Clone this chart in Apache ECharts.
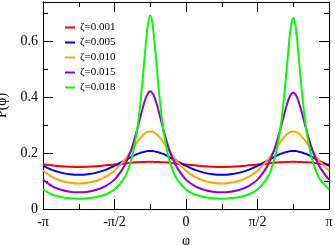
<!DOCTYPE html>
<html>
<head>
<meta charset="utf-8">
<script src="https://cdn.jsdelivr.net/npm/echarts@6/dist/echarts.min.js"></script>
<style>
html,body{margin:0;padding:0;background:#fff;}
#c{width:335px;height:245px;}
</style>
</head>
<body>
<div id="c"></div>
<script>
// phi in units of pi
var phiOverPi = [-1,-0.9375,-0.875,-0.8125,-0.75,-0.6875,-0.625,-0.5625,-0.5,-0.4375,-0.40625,-0.375,-0.34375,-0.328125,-0.3125,-0.296875,-0.28125,-0.265625,-0.25,-0.234375,-0.21875,-0.203125,-0.1875,-0.171875,-0.15625,-0.125,-0.09375,-0.0625,0,0.0625,0.125,0.1875,0.25,0.3125,0.375,0.4375,0.5,0.5625,0.59375,0.625,0.65625,0.671875,0.6875,0.703125,0.71875,0.734375,0.75,0.765625,0.78125,0.796875,0.8125,0.828125,0.84375,0.875,0.90625,0.9375,1];

var seriesNames = ['ζ=0.001','ζ=0.005','ζ=0.010','ζ=0.015','ζ=0.018'];
var seriesColors = ['#ff0000','#0000ff','#ffa500','#9400d3','#00ff00'];

var pZeta001 = [0.159,0.156,0.153,0.151,0.150,0.151,0.153,0.156,0.159,0.162,0.164,0.166,0.167,0.167,0.168,0.168,0.168,0.169,0.169,0.169,0.168,0.168,0.168,0.167,0.167,0.166,0.164,0.162,0.159,0.156,0.153,0.151,0.150,0.151,0.153,0.156,0.159,0.162,0.164,0.166,0.167,0.167,0.168,0.168,0.168,0.169,0.169,0.169,0.168,0.168,0.168,0.167,0.167,0.166,0.164,0.162,0.159];
var pZeta005 = [0.154,0.140,0.130,0.124,0.122,0.124,0.130,0.140,0.154,0.171,0.179,0.188,0.196,0.199,0.202,0.204,0.206,0.207,0.207,0.207,0.206,0.204,0.202,0.199,0.196,0.188,0.179,0.171,0.154,0.140,0.130,0.124,0.122,0.124,0.130,0.140,0.154,0.171,0.179,0.188,0.196,0.199,0.202,0.204,0.206,0.207,0.207,0.207,0.206,0.204,0.202,0.199,0.196,0.188,0.179,0.171,0.154];
var pZeta010 = [0.137,0.115,0.101,0.094,0.091,0.094,0.101,0.115,0.137,0.170,0.191,0.214,0.237,0.248,0.257,0.266,0.272,0.276,0.277,0.276,0.272,0.266,0.257,0.248,0.237,0.214,0.191,0.170,0.137,0.115,0.101,0.094,0.091,0.094,0.101,0.115,0.137,0.170,0.191,0.214,0.237,0.248,0.257,0.266,0.272,0.276,0.277,0.276,0.272,0.266,0.257,0.248,0.237,0.214,0.191,0.170,0.137];
var pZeta015 = [0.105,0.082,0.069,0.062,0.060,0.062,0.069,0.082,0.105,0.148,0.181,0.224,0.280,0.311,0.342,0.372,0.397,0.414,0.421,0.414,0.397,0.372,0.342,0.311,0.280,0.224,0.181,0.148,0.105,0.082,0.069,0.062,0.060,0.062,0.069,0.082,0.105,0.148,0.181,0.224,0.279,0.309,0.340,0.369,0.394,0.410,0.416,0.410,0.394,0.369,0.340,0.309,0.279,0.224,0.181,0.148,0.105];
var pZeta018 = [0.070,0.052,0.043,0.038,0.037,0.038,0.043,0.052,0.070,0.106,0.139,0.191,0.276,0.337,0.411,0.499,0.589,0.662,0.692,0.662,0.589,0.499,0.411,0.337,0.276,0.191,0.139,0.106,0.070,0.052,0.043,0.038,0.037,0.038,0.043,0.052,0.070,0.106,0.139,0.191,0.275,0.335,0.408,0.495,0.583,0.655,0.683,0.655,0.583,0.495,0.408,0.335,0.275,0.191,0.139,0.106,0.070];

var xTickLabels = {'-1':'-π','-0.5':'-π/2','0':'0','0.5':'π/2','1':'π'};
var yTickLabels = {'0':'0','0.2':'0.2','0.4':'0.4','0.6':'0.6'};

var allSeries = [pZeta001,pZeta005,pZeta010,pZeta015,pZeta018];
var FONT = 'Liberation Serif';

function pairs(ys){ return phiOverPi.map(function(x,i){return [x, ys[i]];}); }

var axisLine = {show:true, onZero:false, lineStyle:{color:'#000', width:1}};
function yAx(pos, interval, tickLen, showLabel, name){
  return {
    type:'value', position:pos, min:0, max:0.74, interval:interval,
    axisLine: axisLine,
    axisTick:{show:true, inside:true, length:tickLen, lineStyle:{color:'#000'}},
    splitLine:{show:false},
    axisLabel:{show:showLabel, fontFamily:FONT, fontSize:14, color:'#000', margin:5,
      formatter:function(v){ var k = String(Math.round(v*10)/10); return (Math.abs(v*5-Math.round(v*5))<1e-6 && yTickLabels[k]!==undefined) ? yTickLabels[k] : ''; }},
    name: name||'', nameLocation:'middle', nameGap:23, nameRotate:90,
    nameTextStyle:{fontFamily:FONT, fontSize:14, color:'#000'}
  };
}
function xAx(pos, showLabel, name){
  return {
    type:'value', position:pos, min:-1, max:1, interval:0.5,
    axisLine: axisLine,
    axisTick:{show:true, inside:true, length:10, lineStyle:{color:'#000'}},
    minorTick:{show:true, splitNumber:2, length:5, lineStyle:{color:'#000'}},
    splitLine:{show:false}, minorSplitLine:{show:false},
    axisLabel:{show:showLabel, fontFamily:FONT, fontSize:14, color:'#000', margin:6,
      formatter:function(v){ return xTickLabels[String(v)] || ''; }},
    name:name||'', nameLocation:'middle', nameGap:22,
    nameTextStyle:{fontFamily:FONT, fontSize:14, color:'#000'}
  };
}

var chart = echarts.init(document.getElementById('c'), null, {renderer:'canvas'});
chart.setOption({
  animation:false,
  backgroundColor:'#fff',
  grid:{left:43, right:6, top:2, bottom:36, containLabel:false, outerBoundsMode:'none'},
  legend:{
    orient:'vertical', left:60, top:17, itemWidth:10, itemHeight:2, itemGap:4,
    icon:'rect',
    textStyle:{fontFamily:FONT, fontSize:11, color:'#000', lineHeight:10},
    data: seriesNames
  },
  xAxis:[xAx('bottom', true, 'φ'), xAx('top', false)],
  yAxis:[yAx('left',0.2,10,true,'P(φ)'), yAx('left',0.1,5,false), yAx('right',0.2,10,false), yAx('right',0.1,5,false)],
  series: allSeries.map(function(d,i){
    return {type:'line', name:seriesNames[i], data:pairs(d), xAxisIndex:0, yAxisIndex:0,
      symbol:'none', smooth:0.3, lineStyle:{color:seriesColors[i], width:2}, itemStyle:{color:seriesColors[i]}};
  })
});
</script>
</body>
</html>
